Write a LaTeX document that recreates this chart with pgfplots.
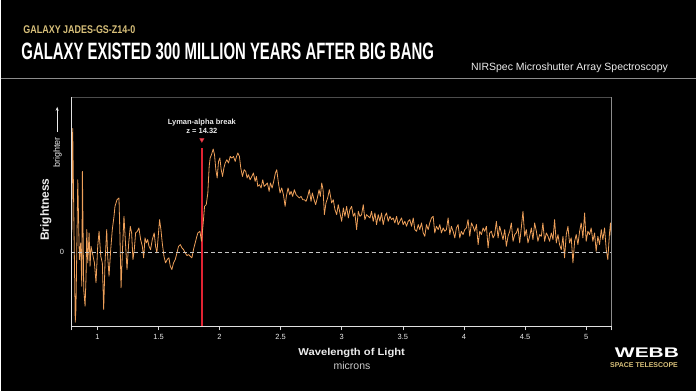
\documentclass[border=0pt]{standalone}
\usepackage{fontspec}
\setmainfont{Liberation Sans}
\usepackage{pgfplots}
\pgfplotsset{compat=1.18}
\usetikzlibrary{arrows.meta}
\definecolor{spec}{RGB}{238,160,90}
\definecolor{gold}{RGB}{216,192,122}
\definecolor{breakred}{RGB}{225,35,50}
\definecolor{txt}{RGB}{236,236,236}
\begin{document}
\begin{tikzpicture}[x=1pt,y=1pt]
\fill[black] (0,0) rectangle (697,392);
% titles
\node[anchor=west, inner sep=0, text=gold] at (22.7,362) {\scalebox{0.80}[1]{\fontsize{11.2}{12}\selectfont\bfseries GALAXY JADES-GS-Z14-0}};
\node[anchor=west, inner sep=0, text=white] at (20.7,340.7) {\scalebox{0.63}[1]{\fontsize{23.7}{25}\selectfont\bfseries GALAXY EXISTED 300 MILLION YEARS AFTER BIG BANG}};
\node[anchor=base east, inner sep=0, text=txt] at (668.7,321.3) {\fontsize{10.5}{12}\selectfont NIRSpec Microshutter Array Spectroscopy};
\draw[white!55!black, line width=1.2pt] (0,313.5) -- (697,313.5);
% y-axis labels
\node[rotate=90, anchor=base, inner sep=0, text=txt] at (48.3,182) {\fontsize{12}{13}\selectfont\bfseries Brightness};
\node[rotate=90, anchor=base, inner sep=0, text=txt] at (59.5,239.5) {\fontsize{9}{10}\selectfont brighter};
\draw[txt, line width=0.6pt, -{Stealth[length=4pt,width=3pt]}] (56.7,260) -- (56.7,285);
% x-axis labels
\node[anchor=base, inner sep=0, text=txt] at (351.7,36.3) {\scalebox{1.12}[1]{\fontsize{10}{12}\selectfont\bfseries Wavelength of Light}};
\node[anchor=base, inner sep=0, text=white!80!black] at (352,22) {\fontsize{10.5}{12}\selectfont microns};
% logo
\node[anchor=base, inner sep=0, text=white] at (647.5,34) {\scalebox{1.5}[1]{\fontsize{14}{15}\selectfont\bfseries WEBB}};
\node[anchor=base, inner sep=0, text=gold] at (644.5,24) {\fontsize{7}{8}\selectfont\bfseries SPACE TELESCOPE};
\begin{axis}[
  at={(71pt,65pt)}, anchor=south west,
  scale only axis, width=541pt, height=230pt,
  xmin=0.788, xmax=5.208, ymin=-74.3, ymax=155.7,
  clip=false,
  axis line style={draw=none},
  xtick={1,1.5,2,2.5,3,3.5,4,4.5,5},
  xticklabels={1,1.5,2,2.5,3,3.5,4,4.5,5},
  extra x ticks={0.788,5.208}, extra x tick labels={},
  ytick={0}, yticklabels={0},
  xtick pos=bottom, ytick pos=left,
  tick align=outside, major tick length=4pt,
  x tick style={draw=white!85!black, line width=0.7pt},
  y tick style={draw=none},
  ticklabel style={font=\fontsize{7.5}{8}\selectfont, text=txt},
]
% Lyman-alpha break line (drawn first, under the spectrum)
\addplot[color=breakred, line width=1.6pt] coordinates {(1.855,-74.3) (1.855,104.5)};
% spectrum (x values read in picture scale, calibrated to tick positions)
\addplot[draw=spec, line width=0.8pt, line join=round, x filter/.expression={0.99469*x-0.0029}] table {
x y
0.798 20
0.805 124
0.826 -70
0.832 -57
0.847 72.7
0.860 -7.3
0.871 9.4
0.880 -34
0.885 81
0.896 -37.3
0.907 -54
0.915 -24
0.921 22.7
0.929 -10.6
0.940 19.4
0.948 -14
0.956 6
0.967 -0.6
0.984 -10.6
0.997 -30.6
1.011 6
1.022 21
1.036 -4
1.049 -10.6
1.060 -57.3
1.071 -10.6
1.085 22.7
1.093 -4
1.104 -24
1.118 2.7
1.131 22.7
1.145 36
1.153 46
1.170 52.7
1.186 54.4
1.194 16
1.203 -35.6
1.216 6
1.227 36
1.241 6
1.252 -17.3
1.266 9.4
1.279 26
1.290 19.4
1.301 -7.3
1.312 2.7
1.323 19.4
1.337 21
1.350 24.4
1.364 12.7
1.378 6
1.389 -5.6
1.400 14.4
1.411 9.4
1.422 12.7
1.433 6
1.446 2.7
1.460 12.7
1.476 19.4
1.487 6
1.498 -0.6
1.509 16
1.520 32.7
1.531 22.7
1.542 9.4
1.556 -4
1.569 -10.6
1.583 -7.3
1.597 -5.6
1.608 -14
1.621 -17.3
1.635 -10.6
1.649 -7.3
1.663 -0.6
1.676 6
1.690 7.7
1.704 4.4
1.717 2.7
1.731 -0.6
1.745 -3.3
1.758 -2.3
1.772 -4
1.786 -5.6
1.799 2.7
1.813 9.4
1.827 16
1.835 19.4
1.852 21
1.865 11
1.879 29.4
1.890 46
1.904 47.7
1.917 59.4
1.928 86
1.936 94.4
1.947 97.7
1.961 103.4
1.972 97.7
1.983 82.7
1.994 74.4
2.005 91
2.016 94.4
2.027 82.7
2.038 76
2.049 84.4
2.060 89.4
2.073 92.7
2.087 89.4
2.101 96
2.114 94.4
2.128 96
2.142 91
2.153 96
2.164 99.4
2.177 96
2.188 84.4
2.202 76
2.216 82.7
2.229 81
2.240 74.4
2.251 77.7
2.265 72.7
2.279 76
2.292 79.4
2.306 71
2.317 76
2.328 66
2.342 67.7
2.355 64.4
2.369 72.7
2.380 66
2.394 67.7
2.407 69.4
2.421 61
2.432 69.4
2.446 64.4
2.459 71
2.473 79.4
2.484 82.7
2.498 69.4
2.511 59.4
2.525 64.4
2.539 57.7
2.553 46
2.563 56
2.577 64.4
2.591 57.7
2.602 61
2.615 56
2.629 62.7
2.643 57.7
2.657 56
2.670 54.4
2.684 56
2.698 52.7
2.711 52.7
2.725 51
2.739 56
2.752 62.7
2.766 51
2.777 59.4
2.791 52.7
2.804 47.7
2.818 54.4
2.832 62.7
2.843 56
2.854 69.4
2.865 62.7
2.876 37.7
2.889 49.4
2.903 54.4
2.917 62.7
2.936 49.4
2.949 52.7
2.963 42.7
2.977 37.7
2.990 47.7
3.004 39.4
3.018 31
3.032 44.4
3.045 36
3.059 46
3.073 34.4
3.086 42.7
3.100 46
3.114 36
3.127 39.4
3.141 22.7
3.155 41
3.168 36
3.182 37.7
3.196 47.7
3.209 32.7
3.223 37.7
3.237 36
3.251 34.4
3.264 41
3.278 31
3.292 39.4
3.305 27.7
3.319 37.7
3.333 31
3.346 39.4
3.360 27.7
3.374 36
3.387 39.4
3.401 31
3.415 36
3.429 32.7
3.442 34.4
3.456 29.4
3.470 36
3.483 27.7
3.497 31
3.511 34.4
3.524 27.7
3.538 31
3.552 26
3.565 31
3.579 32.7
3.593 26
3.607 34.4
3.620 22.7
3.634 21
3.648 27.7
3.661 22.7
3.675 29.4
3.689 19.4
3.702 16
3.716 27.7
3.730 22.7
3.743 29.4
3.757 34.4
3.771 36
3.784 19.4
3.798 26
3.812 22.7
3.826 27.7
3.839 19.4
3.853 24.4
3.867 21
3.880 22.7
3.894 34.4
3.908 17.7
3.921 26
3.935 21
3.949 14.4
3.962 24.4
3.976 27.7
3.990 14.4
4.003 21
4.017 17.7
4.031 22.7
4.045 24.4
4.058 32.7
4.072 16
4.086 29.4
4.099 26
4.113 21
4.127 27.7
4.141 7.7
4.154 21
4.168 17.7
4.182 24.4
4.195 21
4.209 26
4.223 4.4
4.236 19.4
4.250 21
4.264 14.4
4.277 17.7
4.291 31
4.305 14.4
4.318 26
4.332 19.4
4.346 12.7
4.360 22.7
4.373 6
4.387 16
4.401 21
4.414 29.4
4.428 11
4.442 17.7
4.455 19.4
4.469 24.4
4.483 9.4
4.496 24.4
4.510 41
4.524 16
4.537 22.7
4.551 9.4
4.565 16
4.579 24.4
4.592 12.7
4.606 29.4
4.620 21
4.633 11
4.647 17.7
4.661 16
4.674 29.4
4.688 11
4.702 19.4
4.716 16
4.729 11
4.743 19.4
4.757 12.7
4.770 32.7
4.784 9.4
4.798 17.7
4.811 7.7
4.825 2.7
4.839 16
4.852 -5.6
4.866 17.7
4.880 26
4.893 9.4
4.907 14.4
4.921 -10.6
4.935 11
4.948 17.7
4.962 7.7
4.976 21
4.989 29.4
5.003 14.4
5.017 39.4
5.030 11
5.044 21
5.058 17.7
5.071 24.4
5.085 11
5.099 19.4
5.112 1
5.126 16
5.140 7.7
5.154 22.7
5.167 12.7
5.181 24.4
5.195 2.7
5.208 -7.3
5.222 19.4
5.230 29.4
5.236 16
};
% zero line
\addplot[draw=white!78!black, line width=1.1pt, dash pattern=on 4pt off 3pt] coordinates {(0.788,0) (5.208,0)};
\addplot[only marks, mark=triangle*, mark size=2.6pt, mark options={rotate=180, draw=breakred, fill=breakred!80!white}] coordinates {(1.855,112.7)};
\node[anchor=base, inner sep=0, text=txt, font=\fontsize{7.5}{8}\selectfont\bfseries] at (axis cs:1.855,127.7) {Lyman-alpha break};
\node[anchor=base, inner sep=0, text=txt, font=\fontsize{7.5}{8}\selectfont\bfseries] at (axis cs:1.855,119.4) {z = 14.32};
% frame
\draw[white!30!black, line width=0.5pt] (rel axis cs:0,1) -- (rel axis cs:1,1);
\draw[white!55!black, line width=0.8pt] (rel axis cs:1,0) -- (rel axis cs:1,1);
\draw[white!88!black, line width=0.8pt] (rel axis cs:0,1) -- (rel axis cs:0,0) -- (rel axis cs:1,0);
\end{axis}
\end{tikzpicture}
\end{document}
